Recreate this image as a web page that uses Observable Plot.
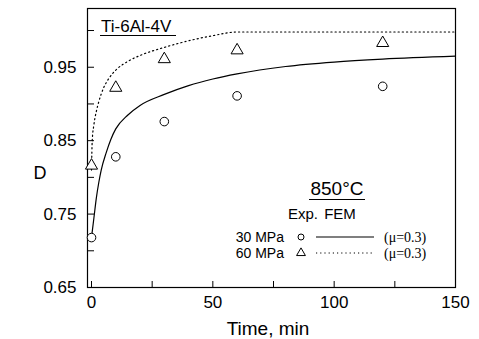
<!DOCTYPE html>
<html>
<head>
<meta charset="utf-8">
<script src="https://cdn.jsdelivr.net/npm/d3@7"></script>
<script src="https://cdn.jsdelivr.net/npm/@observablehq/plot@0.6"></script>
<style>
  html, body { margin: 0; padding: 0; background: #fff; }
</style>
</head>
<body>
<div id="chart"></div>
<script>
// ---- data ----
const expTime = [0, 10, 30, 60, 120];
const exp30 = [0.718, 0.828, 0.876, 0.911, 0.924];
const exp60 = [0.816, 0.922, 0.961, 0.973, 0.983];

const fem30Time = [0, 1, 2, 3, 4, 6, 8, 10, 15, 20, 30, 40, 50, 60, 80, 100, 120, 150];
const fem30 = [0.718, 0.745, 0.772, 0.793, 0.810, 0.833, 0.852, 0.866, 0.885, 0.898, 0.913, 0.925, 0.934, 0.941, 0.951, 0.957, 0.961, 0.965];

const fem60Time = [0, 0.3, 1, 2, 3, 5, 7, 10, 15, 20, 30, 40, 50, 60, 90, 120, 150];
const fem60 = [0.810, 0.850, 0.872, 0.890, 0.903, 0.922, 0.934, 0.946, 0.958, 0.966, 0.977, 0.986, 0.993, 0.998, 0.998, 0.998, 0.998];

const xLabelTicks = [0, 50, 100, 150];
const xMinorTicks = [0, 25, 50, 75, 100, 125];
const yLabelTicks = [0.65, 0.75, 0.85, 0.95];
const yAllTicks = [0.65, 0.70, 0.75, 0.80, 0.85, 0.90, 0.95, 1.00];

const seriesNames = ["30 MPa", "60 MPa"];
const legendTitle = "850°C";
const legendHeads = ["Exp.", "FEM"];
const legendNote = "(μ=0.3)";
const chartTitle = "Ti-6Al-4V";
const xTitle = "Time, min";
const yTitle = "D";

const exp30Data = expTime.map((t, i) => ({t, D: exp30[i]}));
const exp60Data = expTime.map((t, i) => ({t, D: exp60[i]}));
const fem30Data = fem30Time.map((t, i) => ({t, D: fem30[i]}));
const fem60Data = fem60Time.map((t, i) => ({t, D: fem60[i]}));

const font = "Liberation Sans, Arial, sans-serif";

const plot = Plot.plot({
  width: 479,
  height: 339,
  marginLeft: 87,
  marginRight: 24,
  marginTop: 8,
  marginBottom: 52,
  style: {fontFamily: font, fontSize: "17px", color: "#000", background: "#fff"},
  x: {domain: [-1.65, 150]},
  y: {domain: [0.65, 1.03]},
  marks: [
    Plot.frame({stroke: "#000", strokeWidth: 1.2}),
    Plot.axisX({ticks: xMinorTicks, tickSize: 6, dy: -6, tickFormat: () => "", label: null, strokeWidth: 1}),
    Plot.axisX({ticks: xLabelTicks, tickSize: 0, tickPadding: 8, fontSize: 17, label: null}),
    Plot.axisY({ticks: yAllTicks, tickSize: 7, dx: 7, tickFormat: () => "", label: null, strokeWidth: 1}),
    Plot.axisY({ticks: yLabelTicks, tickSize: 0, tickPadding: 11, fontSize: 17,
      tickFormat: d3.format(".2f"), label: null}),
    Plot.line(fem30Data, {x: "t", y: "D", stroke: "#000", strokeWidth: 1.2, curve: "monotone-x"}),
    Plot.line(fem60Data, {x: "t", y: "D", stroke: "#000", strokeWidth: 1.2, strokeDasharray: "1.2,3", curve: "monotone-x"}),
    Plot.dot(exp30Data, {x: "t", y: "D", r: 4.3, stroke: "#000", strokeWidth: 1, fill: "#fff"}),
    Plot.dot(exp60Data, {x: "t", y: "D", r: 4.5, symbol: "triangle", stroke: "#000", strokeWidth: 1, fill: "#fff"})
  ]
});

document.getElementById("chart").appendChild(plot);

// ---- annotations & legend (layout in pixels) ----
const svg = d3.select(plot);
const g = svg.append("g").attr("font-family", font).attr("fill", "#000")
  .attr("text-anchor", "start");

// axis titles
g.append("text").attr("x", 40).attr("y", 179).attr("text-anchor", "middle")
  .attr("font-size", 18).text(yTitle);
g.append("text").attr("x", 268).attr("y", 335).attr("text-anchor", "middle")
  .attr("font-size", 19).text(xTitle);

// title
g.append("text").attr("x", 101).attr("y", 32).attr("font-size", 17).text(chartTitle);
g.append("line").attr("x1", 100).attr("x2", 176).attr("y1", 35.5).attr("y2", 35.5)
  .attr("stroke", "#000").attr("stroke-width", 1.2);

// legend
g.append("text").attr("x", 337).attr("y", 195).attr("text-anchor", "middle")
  .attr("font-size", 19).text(legendTitle);
g.append("line").attr("x1", 309).attr("x2", 365).attr("y1", 199.5).attr("y2", 199.5)
  .attr("stroke", "#000").attr("stroke-width", 1.2);
g.append("text").attr("x", 303).attr("y", 219).attr("text-anchor", "middle")
  .attr("font-size", 15).text(legendHeads[0]);
g.append("text").attr("x", 340).attr("y", 219).attr("text-anchor", "middle")
  .attr("font-size", 15).text(legendHeads[1]);

const rows = [237, 253];
seriesNames.forEach((name, i) => {
  const y = rows[i];
  g.append("text").attr("x", 284).attr("y", y + 5).attr("text-anchor", "end")
    .attr("font-size", 14).text(name);
  g.append("line").attr("x1", 316).attr("x2", 374).attr("y1", y).attr("y2", y)
    .attr("stroke", "#000").attr("stroke-width", i === 0 ? 1.2 : 1)
    .attr("stroke-dasharray", i === 0 ? null : "1.2,3");
  g.append("text").attr("x", 384).attr("y", y + 5)
    .attr("font-family", "Liberation Serif, Times New Roman, serif")
    .attr("font-size", 14).text(legendNote);
});
g.append("circle").attr("cx", 301).attr("cy", rows[0]).attr("r", 3)
  .attr("fill", "#fff").attr("stroke", "#000");
const tri = d3.symbol(d3.symbolTriangle, 34)();
g.append("path").attr("d", tri).attr("transform", `translate(301,${rows[1]})`)
  .attr("fill", "#fff").attr("stroke", "#000");
</script>
</body>
</html>
